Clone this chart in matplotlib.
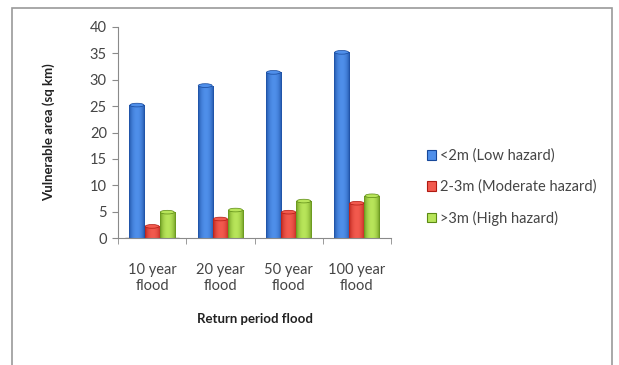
import numpy as np
import matplotlib.pyplot as plt
from matplotlib.patches import Rectangle, Ellipse
from matplotlib.colors import LinearSegmentedColormap

plt.rcParams['font.family'] = ['Lato', 'DejaVu Sans']

categories = ['10 year\nflood', '20 year\nflood', '50 year\nflood', '100 year\nflood']
series = ['<2m (Low hazard)', '2-3m (Moderate hazard)', '>3m (High hazard)']
low = [25.2, 28.9, 31.4, 35.2]
moderate = [2.2, 3.6, 4.9, 6.6]
high = [4.9, 5.3, 7.0, 8.0]
colors = [('#17489a', '#4f8fea'), ('#b01a12', '#f25a4e'), ('#5c8a14', '#b8e55a')]

fig = plt.figure(figsize=(6.19, 3.65), dpi=100)
# outer chart frame
fig.patches.append(Rectangle((12 / 619, -0.01), 600 / 619, 1 - 8 / 365 + 0.01,
                             transform=fig.transFigure, fill=False,
                             edgecolor='#9a9a9a', linewidth=1.2))

ax = fig.add_axes([118 / 619, 1 - 238 / 365, 273 / 619, 211 / 365])

n = len(series)
width = 1 / (n + 1.5)
grad = np.linspace(0, 1, 64)
profile = np.sin(grad * np.pi) ** 0.6


def draw_bar(x, h, c_dark, c_light):
    cmap = LinearSegmentedColormap.from_list('b', [c_dark, c_light])
    img = ax.imshow(profile[None, :], cmap=cmap, aspect='auto',
                    extent=(x - width / 2, x + width / 2, 0, h), zorder=2,
                    interpolation='bilinear', vmin=0, vmax=1)
    rect = Rectangle((x - width / 2, 0), width, h, transform=ax.transData)
    img.set_clip_path(rect)
    ax.add_patch(Ellipse((x, h), width * 0.92, 0.7, facecolor=c_light,
                         edgecolor=c_dark, linewidth=0.5, zorder=3))


xs = np.arange(len(categories))
for i, (vals, (cd, cl)) in enumerate(zip([low, moderate, high], colors)):
    for x, v in zip(xs, vals):
        draw_bar(x + (i - 1) * width, v, cd, cl)
    ax.bar([0], [0], color=cl, edgecolor=cd, linewidth=0.8, label=series[i])

ax.set_xlim(-0.5, 3.5)
ax.set_ylim(0, 40)
ax.set_yticks(range(0, 41, 5))
ax.set_xticks(xs)
ax.set_xticklabels(categories, fontsize=10.5, color='#454545', linespacing=1.15)
ax.set_xticks(np.arange(-0.5, 4, 1), minor=True)
ax.tick_params(axis='x', which='major', length=0, pad=18)
ax.tick_params(axis='x', which='minor', length=4, color='#8a8a8a')
ax.tick_params(axis='y', labelsize=10.5, colors='#8a8a8a', labelcolor='#454545',
               length=4, direction='out', pad=4)
for s in ['top', 'right']:
    ax.spines[s].set_visible(False)
for s in ['left', 'bottom']:
    ax.spines[s].set_color('#8a8a8a')

ax.set_ylabel('Vulnerable area (sq km)', fontsize=9.5, fontweight='bold',
              labelpad=25, color='#222222')
ax.set_xlabel('Return period flood', fontsize=9.5, fontweight='bold',
              labelpad=15, color='#222222')

ax.legend(loc='center left', bbox_to_anchor=(1.085, 0.24), frameon=False,
          fontsize=10.5, handlelength=0.6, handleheight=0.6, handletextpad=0.3,
          labelspacing=1.15, labelcolor='#454545')

fig.savefig('out.png', dpi=100)
